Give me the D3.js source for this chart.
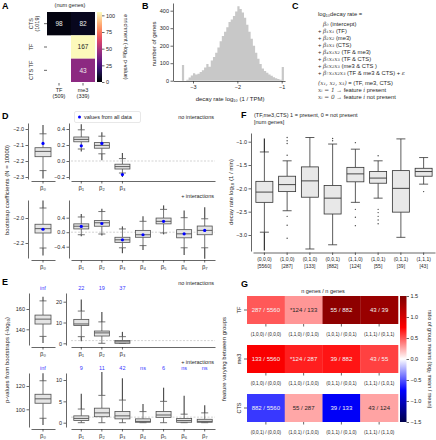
<!DOCTYPE html>
<html>
<head>
<meta charset="utf-8">
<script src="https://cdn.jsdelivr.net/npm/d3@7"></script>
<style>
  body { margin: 0; background: #fff; }
  svg { font-family: "Liberation Sans", Arial, sans-serif; }
</style>
</head>
<body>
<svg id="fig"></svg>
<script>
// ---------------- data ----------------
// A: overlap between gene sets
const aRowNames = ["CTS", "TF", "CTS TF"];
const aRowSizes = ["(1019)", "", ""];
const aColNames = ["TF", "me3"];
const aColSizes = ["(509)", "(339)"];
const aCounts = [[98, 82], [null, 167], [null, 43]];
const aEnrichment = [[3, 6], [null, 104], [null, 42]];
const aCbarTicks = [0, 25, 50, 75, 100];

// B: histogram of decay rates
const bBinStart = -3.25, bBinWidth = 0.05;
const bCounts = [90, 0, 5, 18, 30, 42, 35, 40, 50, 60, 75, 95, 80, 115, 135, 160, 190, 225, 255, 280,
  305, 335, 350, 370, 395, 425, 410, 390, 360, 320, 280, 240, 200, 160, 125, 95, 70, 55, 45, 35,
  28, 20, 14, 10, 6, 78];
const bXTicks = [-3, -2, -1];
const bYTicks = [0, 100, 200, 300, 400];

// C: model text (segments: [text, isMath])
const cLines = [
  [["log₁₀decay rate =", 0]],
  [["β₀", 1], [" (intercept)", 0]],
  [["+ ", 0], ["β₁x₁", 1], [" (TF)", 0]],
  [["+ ", 0], ["β₂x₂", 1], [" (me3)", 0]],
  [["+ ", 0], ["β₃x₃", 1], [" (CTS)", 0]],
  [["+ ", 0], ["β₄x₁x₂", 1], [" (TF & me3)", 0]],
  [["+ ", 0], ["β₅x₁x₃", 1], [" (TF & CTS)", 0]],
  [["+ ", 0], ["β₆x₂x₃", 1], [" (me3 & CTS )", 0]],
  [["+ ", 0], ["β₇x₁x₂x₃", 1], [" (TF & me3 & CTS) + ", 0], ["ε", 1]],
  [["(x₁, x₂, x₃)", 1], [" = (TF, me3, CTS)", 0]],
  [["xᵢ = 1", 1], [" → feature ", 0], ["i", 1], [" present", 0]],
  [["xᵢ = 0", 1], [" → feature ", 0], ["i", 1], [" not present", 0]]
];

// D/E: bootstrap summaries, each [whiskerLo, q1, median, q3, whiskerHi, flierLo, flierHi]
const betaNames = ["β₀", "β₁", "β₂", "β₃", "β₄", "β₅", "β₆", "β₇"];
const dNoInt = [
  [-2.26, -2.173, -2.14, -2.117, -2.03, -2.31, -1.975],
  [0.15, 0.24, 0.27, 0.30, 0.39, 0.12, 0.46],
  [0.09, 0.16, 0.195, 0.23, 0.31, 0.01, 0.36],
  [-0.15, -0.10, -0.07, -0.04, 0.03, -0.20, 0.10]
];
const dNoIntAll = [-2.09, 0.19, 0.22, -0.17];
const dInt = [
  [-2.24, -2.12, -2.085, -2.05, -1.92, -2.30, -1.86],
  [-0.07, 0.09, 0.165, 0.23, 0.42, -0.11, 0.50],
  [-0.05, 0.165, 0.26, 0.32, 0.57, -0.09, 0.65],
  [-0.43, -0.28, -0.21, -0.14, 0.09, -0.58, 0.16],
  [-0.37, -0.14, -0.07, 0.05, 0.30, -0.49, 0.44],
  [-0.02, 0.23, 0.30, 0.39, 0.63, -0.06, 0.74],
  [-0.43, -0.155, -0.045, 0.07, 0.40, -0.63, 0.60],
  [-0.43, -0.07, 0.05, 0.17, 0.37, -0.73, 0.69]
];
const dIntAll = [-2.09, 0.16, 0.24, -0.21, -0.07, 0.30, -0.045, 0.05];

const eNoInt = [
  [133, 145.2, 150, 154, 168, 126.5, 172],
  [3.2, 8.6, 9.3, 11.5, 15.5, 1.0, 21],
  [0, 3.5, 5, 5.9, 10.3, 0, 15],
  [0, 0, 0.7, 1.3, 3.2, 0, 5.5]
];
const eNoIntP = ["inf", "22", "19", "37"];
const eInt = [
  [92.3, 105.2, 109, 112.9, 124.5, 86.6, 131],
  [0, 0.5, 1.0, 1.6, 3.2, 0, 6.8],
  [0, 1.4, 2.3, 3.4, 6.4, 0, 11.9],
  [0, 0.9, 1.6, 2.6, 5.3, 0, 10.4],
  [0, 0.1, 0.3, 0.9, 2.6, 0, 4.4],
  [0, 1.25, 1.8, 2.6, 5.0, 0, 8.2],
  [0, 0.1, 0.5, 1.0, 2.0, 0, 6.3],
  [0, 0.1, 0.3, 0.8, 2.3, 0, 4.1]
];
const eIntP = ["inf", "9", "11", "42", "ns", "6", "ns", "ns"];
const eSignif = 1.3;

// F: decay rate per feature combination, [whiskerLo, q1, median, q3, whiskerHi]
const fGroups = ["(0,0,0)", "(1,0,0)", "(0,1,0)", "(0,0,1)", "(1,1,0)", "(1,0,1)", "(0,1,1)", "(1,1,1)"];
const fCounts = [5560, 287, 133, 882, 124, 55, 39, 43];
const fBoxes = [
  [-2.94, -2.30, -2.08, -1.85, -1.22],
  [-2.48, -2.07, -1.92, -1.74, -1.41],
  [-3.30, -2.19, -1.84, -1.54, -0.91],
  [-3.21, -2.55, -2.21, -1.94, -1.05],
  [-2.30, -1.86, -1.69, -1.55, -1.16],
  [-2.21, -1.89, -1.78, -1.64, -1.41],
  [-3.05, -2.51, -2.00, -1.62, -0.94],
  [-1.91, -1.74, -1.64, -1.57, -1.34]
];
const fFliers = [
  [],
  [-0.91, -0.98, -1.04, -1.29, -2.60, -2.79, -3.07],
  [],
  [-0.93, -0.98],
  [-1.02, -2.45, -2.62, -2.80],
  [-1.30, -2.45, -2.52, -2.60, -2.68, -2.76],
  [],
  [-2.07]
];
const fDenseTails = [[-3.33, -0.93], null, null, null, null, null, null, null];
const fYTicks = [-3.0, -2.5, -2.0, -1.5, -1.0];

// G: ratio of group means
const gRows = ["TF", "me3", "CTS"];
const gRatio = [
  [0.49, 0.31, 1.42, 1.35],
  [0.78, 0.66, 0.69, 0.56],
  [-0.585, 0.26, -0.78, 0.27]
];
const gCellText = [
  ["287 / 5560", "*124 / 133", "55 / 882", "43 / 39"],
  ["133 / 5560", "*124 / 287", "39 / 882", "43 / 55"],
  ["882 / 5560", "55 / 287", "39 / 133", "43 / 124"]
];
const gColLabels = [
  ["(1,0,0) / (0,0,0)", "(1,1,0) / (0,1,0)", "(1,0,1) / (0,0,1)", "(1,1,1) / (0,1,1)"],
  ["(0,1,0) / (0,0,0)", "(1,1,0) / (1,0,0)", "(0,1,1) / (0,0,1)", "(1,1,1) / (1,0,1)"],
  ["(0,0,1) / (0,0,0)", "(1,0,1) / (1,0,0)", "(0,1,1) / (0,1,0)", "(1,1,1) / (1,1,0)"]
];
const gCbarTicks = [-1.5, -1.0, -0.5, 0.0, 0.5, 1.0, 1.5];

// ---------------- setup ----------------
const W = 436, H = 440;
const ink = "#262626";
const svg = d3.select("#fig").attr("width", W).attr("height", H);
svg.append("rect").attr("width", W).attr("height", H).attr("fill", "#fff");
const defs = svg.append("defs");

function letter(x, y, t) {
  svg.append("text").attr("x", x).attr("y", y).attr("font-size", 9)
    .attr("font-weight", "bold").attr("fill", "#000").text(t);
}
function label(x, y, t, fs, anchor, rot) {
  const g = svg.append("g").attr("transform", `translate(${x},${y}) rotate(${rot || 0})`);
  return g.append("text").attr("text-anchor", anchor || "start").attr("font-size", fs || 6)
    .attr("fill", ink).text(t);
}
function styleAxis(g, fs) {
  g.attr("font-family", null).attr("font-size", null);
  g.selectAll(".domain").attr("stroke", ink).attr("stroke-width", 0.7);
  g.selectAll(".tick line").attr("stroke", ink).attr("stroke-width", 0.7);
  g.selectAll(".tick text").attr("font-size", fs || 5.5).attr("fill", ink);
}
// linear scale fixed by two reference ticks, then stretched to the axis extent
function linScale(v0, p0, v1, p1, pa, pb) {
  const s = d3.scaleLinear().domain([v0, v1]).range([p0, p1]);
  return d3.scaleLinear().domain([s.invert(pa), s.invert(pb)]).range([pa, pb]);
}
const f1 = d3.format(".1f");

// ---------------- A ----------------
letter(2, 9, "A");
label(70, 7, "(num genes)", 5.5, "middle");
const aX = d3.scaleBand().domain(aColNames).range([47, 95]);
const aY = d3.scaleBand().domain(aRowNames).range([12, 82]);
const aColor = d3.scaleSequential(d3.interpolateMagma).domain([0, 105]);
aRowNames.forEach((r, i) => {
  aColNames.forEach((c, j) => {
    const v = aEnrichment[i][j];
    if (v == null) return;
    svg.append("rect").attr("x", aX(c)).attr("y", aY(r))
      .attr("width", aX.bandwidth()).attr("height", aY.bandwidth()).attr("fill", aColor(v));
    svg.append("text").attr("x", aX(c) + aX.bandwidth() / 2).attr("y", aY(r) + aY.bandwidth() / 2)
      .attr("dy", "0.35em").attr("text-anchor", "middle").attr("font-size", 6.5)
      .attr("fill", v > 60 ? ink : "#eee").text(aCounts[i][j]);
  });
  const cy = aY(r) + aY.bandwidth() / 2;
  svg.append("line").attr("x1", 44).attr("x2", 47).attr("y1", cy).attr("y2", cy)
    .attr("stroke", ink).attr("stroke-width", 0.7);
  const t = label(33, cy, r, 5.5, "middle", -90);
  if (aRowSizes[i]) t.append("tspan").attr("x", 0).attr("dy", 5.5).text(aRowSizes[i]);
});
aColNames.forEach((c, j) => {
  const cx = aX(c) + aX.bandwidth() / 2;
  svg.append("line").attr("x1", cx).attr("x2", cx).attr("y1", 83).attr("y2", 85.5)
    .attr("stroke", ink).attr("stroke-width", 0.7);
  label(cx, 91.5, c, 5.5, "middle");
  label(cx, 98, aColSizes[j], 5.5, "middle");
});
// colorbar
const aGrad = defs.append("linearGradient").attr("id", "magma")
  .attr("x1", 0).attr("y1", 1).attr("x2", 0).attr("y2", 0);
d3.range(0, 1.001, 0.05).forEach(t => aGrad.append("stop").attr("offset", t).attr("stop-color", d3.interpolateMagma(t)));
const aCbY = d3.scaleLinear().domain([0, 105]).range([82, 12]);
svg.append("rect").attr("x", 97).attr("y", 12).attr("width", 5).attr("height", 70).attr("fill", "url(#magma)");
const aCbAxis = svg.append("g").attr("transform", "translate(102,0)")
  .call(d3.axisRight(aCbY).tickValues(aCbarTicks).tickSize(2.5).tickSizeOuter(0).tickPadding(1.5));
styleAxis(aCbAxis);
aCbAxis.select(".domain").remove();
label(123.5, 47, "enrichment (-log₁₀ p-value)", 5.5, "middle", 90);

// ---------------- B ----------------
letter(142, 9, "B");
const bX = linScale(-3, 193, -1, 281.7, 173, 285);
const bY = linScale(0, 80.7, 400, 10.7, 80.7, 3);
const bPts = bCounts.map((c, i) => [bBinStart + i * bBinWidth, c]);
bPts.push([bBinStart + bCounts.length * bBinWidth, bCounts[bCounts.length - 1]]);
svg.append("path")
  .attr("d", d3.area().x(d => bX(d[0])).y0(bY(0)).y1(d => bY(d[1])).curve(d3.curveStepAfter)(bPts))
  .attr("fill", "#c8c8c8");
const bYAxis = svg.append("g").attr("transform", "translate(173,0)")
  .call(d3.axisLeft(bY).tickValues(bYTicks).tickSize(2.5).tickSizeOuter(0).tickPadding(1.5));
styleAxis(bYAxis);
const bXAxis = svg.append("g").attr("transform", "translate(0,81)")
  .call(d3.axisBottom(bX).tickValues(bXTicks).tickFormat(d3.format("d")).tickSize(2.5).tickSizeOuter(0).tickPadding(1.5));
styleAxis(bXAxis);
label(155.5, 44, "number of genes", 6, "middle", -90);
label(230, 100.5, "decay rate log₁₀ (1 / TPM)", 6, "middle");

// ---------------- C ----------------
letter(292, 9, "C");
const cBase = [16, 25.5, 32.5, 39.5, 46.5, 53.5, 60.5, 67.5, 74.5, 84.5, 91.5, 98.5];
cLines.forEach((segs, i) => {
  const t = svg.append("text").attr("x", i === 1 ? 323 : 318).attr("y", cBase[i])
    .attr("font-size", 5.8).attr("fill", ink);
  segs.forEach(([s, m]) => {
    const ts = t.append("tspan").text(s);
    if (m) ts.attr("font-family", "DejaVu Serif, serif").attr("font-style", "italic").attr("fill", "#444");
  });
});

// ---------------- box helpers ----------------
function drawBox(g, cx, y, s, bw, capW, st) {
  const [lo, q1, med, q3, hi] = s;
  const line = (x1, y1, x2, y2, w) => g.append("line").attr("x1", x1).attr("y1", y1)
    .attr("x2", x2).attr("y2", y2).attr("stroke", st.stroke).attr("stroke-width", w || 0.8);
  if (s.length > 5) {
    line(cx, y(s[5]), cx, y(lo), 1.2);
    line(cx, y(hi), cx, y(s[6]), 1.2);
  }
  line(cx, y(lo), cx, y(q1));
  line(cx, y(q3), cx, y(hi));
  line(cx - capW / 2, y(lo), cx + capW / 2, y(lo));
  line(cx - capW / 2, y(hi), cx + capW / 2, y(hi));
  g.append("rect").attr("x", cx - bw / 2).attr("y", y(q3)).attr("width", bw)
    .attr("height", Math.max(0.5, y(q1) - y(q3))).attr("fill", st.fill)
    .attr("stroke", st.stroke).attr("stroke-width", 0.8);
  line(cx - bw / 2, y(med), cx + bw / 2, y(med), 0.9);
}
const bootStyle = { stroke: "#505050", fill: "#e4e4e4" };

function bootSubplot(o) {
  const g = svg.append("g");
  if (o.ref != null) {
    g.append("line").attr("x1", o.x.range()[0]).attr("x2", o.x.range()[1])
      .attr("y1", o.y(o.ref)).attr("y2", o.y(o.ref))
      .attr("stroke", "#b5b5b5").attr("stroke-width", 0.6).attr("stroke-dasharray", "2,1.5");
  }
  o.names.forEach((n, i) => {
    const cx = o.x(n) + o.x.bandwidth() / 2;
    drawBox(g, cx, o.y, o.stats[i], o.bw || 15, 7, bootStyle);
    if (o.dots) g.append("circle").attr("cx", cx).attr("cy", o.y(o.dots[i])).attr("r", 1.6).attr("fill", "#0000ff");
    if (o.pLabels) g.append("text").attr("x", cx).attr("y", o.pY).attr("text-anchor", "middle")
      .attr("font-size", 5.5).attr("fill", "#3a3aff").text(o.pLabels[i]);
  });
  const ya = svg.append("g").attr("transform", `translate(${o.spineX},0)`)
    .call(d3.axisLeft(o.y).tickValues(o.yTicks).tickFormat(o.fmt).tickSize(2.5).tickSizeOuter(0).tickPadding(1.5));
  styleAxis(ya);
  const xa = svg.append("g").attr("transform", `translate(0,${o.spineY})`)
    .call(d3.axisBottom(o.x).tickValues(o.names).tickSize(2.5).tickSizeOuter(0).tickPadding(2.5));
  styleAxis(xa, 6);
}

// ---------------- D ----------------
letter(2, 119, "D");
const xLeft = d3.scaleBand().domain(["β₀"]).range([31, 55]);
const xRight = d3.scaleBand().domain(betaNames.slice(1)).range([71, 215]);
svg.append("rect").attr("x", 74.5).attr("y", 111.5).attr("width", 66).attr("height", 11).attr("rx", 1.5)
  .attr("fill", "#fff").attr("stroke", "#d0d0d0").attr("stroke-width", 0.5);
svg.append("circle").attr("cx", 79.5).attr("cy", 117).attr("r", 1.5).attr("fill", "#0000ff");
label(84, 119, "values from all data", 5.5);
label(214, 119, "no interactions", 5.5, "end");
label(214, 198, "+ interactions", 5.5, "end");

bootSubplot({ x: xLeft, y: linScale(-2.3, 177, -2.0, 129, 179, 123), names: ["β₀"], stats: [dNoInt[0]],
  dots: [dNoIntAll[0]], spineX: 28, spineY: 181, yTicks: [-2.3, -2.2, -2.1, -2.0], fmt: f1, bw: 16 });
bootSubplot({ x: xRight, y: linScale(-0.2, 177, 0.4, 129, 179, 123), names: betaNames.slice(1, 4),
  stats: dNoInt.slice(1), dots: dNoIntAll.slice(1), spineX: 69, spineY: 181, yTicks: [-0.2, 0, 0.2, 0.4],
  fmt: f1, ref: 0 });
bootSubplot({ x: xLeft, y: linScale(-2.2, 243, -2.0, 218, 258, 200), names: ["β₀"], stats: [dInt[0]],
  dots: [dIntAll[0]], spineX: 28, spineY: 260, yTicks: [-2.2, -2.0], fmt: f1, bw: 16 });
bootSubplot({ x: xRight, y: linScale(-0.4, 246.7, 0.4, 217.7, 258, 200), names: betaNames.slice(1),
  stats: dInt.slice(1), dots: dIntAll.slice(1), spineX: 69, spineY: 260, yTicks: [-0.4, 0, 0.4],
  fmt: f1, ref: 0 });
label(8.5, 190, "bootstrap coefficients (N = 10000)", 6, "middle", -90);

// ---------------- E ----------------
letter(2, 285, "E");
label(214, 285, "no interactions", 5.5, "end");
label(214, 364, "+ interactions", 5.5, "end");
bootSubplot({ x: xLeft, y: linScale(140, 329.3, 160, 309, 345, 293), names: ["β₀"], stats: [eNoInt[0]],
  pLabels: [eNoIntP[0]], pY: 290, spineX: 29, spineY: 347, yTicks: [140, 160], fmt: d3.format("d"), bw: 16 });
bootSubplot({ x: xRight, y: linScale(0, 343.3, 20, 301.7, 345, 293), names: betaNames.slice(1, 4),
  stats: eNoInt.slice(1), pLabels: eNoIntP.slice(1), pY: 290, spineX: 66, spineY: 347,
  yTicks: [0, 10, 20], fmt: d3.format("d"), ref: eSignif });
bootSubplot({ x: xLeft, y: linScale(100, 409.3, 120, 386, 427, 373), names: ["β₀"], stats: [eInt[0]],
  pLabels: [eIntP[0]], pY: 369.5, spineX: 29, spineY: 429, yTicks: [100, 120], fmt: d3.format("d"), bw: 16 });
bootSubplot({ x: xRight, y: linScale(0, 422.7, 10, 380, 427, 373), names: betaNames.slice(1),
  stats: eInt.slice(1), pLabels: eIntP.slice(1), pY: 369.5, spineX: 66, spineY: 429,
  yTicks: [0, 5, 10], fmt: d3.format("d"), ref: eSignif });
label(8.5, 360, "p-values from bootstraps (-log₁₀)", 6, "middle", -90);

// ---------------- F ----------------
letter(241, 118, "F");
label(254, 117, "(TF,me3,CTS) 1 = present, 0 = not present", 5.5);
label(254, 123.5, "[num genes]", 5.5);
const fX = d3.scaleBand().domain(fGroups).range([253, 435]);
const fY = linScale(-3.0, 235, -1.0, 141.7, 251, 133);
const fStyle = { stroke: "#333", fill: "#e8e8e8" };
const fG = svg.append("g");
fGroups.forEach((k, i) => {
  const cx = fX(k) + fX.bandwidth() / 2;
  const tail = fDenseTails[i];
  const s = tail ? fBoxes[i].concat(tail) : fBoxes[i];
  drawBox(fG, cx, fY, s, 17, 9, fStyle);
  fFliers[i].forEach(v => fG.append("circle").attr("cx", cx).attr("cy", fY(v)).attr("r", 0.7).attr("fill", "#444"));
});
const fYAxis = svg.append("g").attr("transform", "translate(251,0)")
  .call(d3.axisLeft(fY).tickValues(fYTicks).tickFormat(f1).tickSize(2.5).tickSizeOuter(0).tickPadding(1.5));
styleAxis(fYAxis);
const fXAxis = svg.append("g").attr("transform", "translate(0,252.5)")
  .call(d3.axisBottom(fX).tickSize(2.5).tickSizeOuter(0).tickFormat(""));
styleAxis(fXAxis);
fGroups.forEach((k, i) => {
  const cx = fX(k) + fX.bandwidth() / 2;
  label(cx, 261, k, 5, "middle");
  label(cx, 267.5, `[${fCounts[i]}]`, 5, "middle");
});
label(233, 192, "decay rate log₁₀ (1 / min)", 6, "middle", -90);

// ---------------- G ----------------
letter(241, 287, "G");
label(323, 292.5, "n genes / n genes", 5.5, "middle");
const gX = d3.scaleBand().domain([0, 1, 2, 3]).range([247, 398]);
const gRowTop = [296, 345, 394];
const gRowH = 28;
const gColor = d3.scaleLinear().domain([-1.5, -0.75, 0, 0.75, 1.5])
  .range(["#00004c", "#0000ff", "#ffffff", "#ff0000", "#800000"]).clamp(true);
gRows.forEach((r, i) => {
  const top = gRowTop[i];
  gRatio[i].forEach((v, j) => {
    svg.append("rect").attr("x", gX(j)).attr("y", top).attr("width", gX.bandwidth() + 0.3)
      .attr("height", gRowH).attr("fill", gColor(v));
    svg.append("text").attr("x", gX(j) + gX.bandwidth() / 2).attr("y", top + gRowH / 2).attr("dy", "0.35em")
      .attr("text-anchor", "middle").attr("font-size", 6)
      .attr("fill", Math.abs(v) > 0.4 ? "#f4f4f4" : ink).text(gCellText[i][j]);
    const cx = gX(j) + gX.bandwidth() / 2;
    svg.append("line").attr("x1", cx).attr("x2", cx).attr("y1", top + gRowH).attr("y2", top + gRowH + 2.5)
      .attr("stroke", ink).attr("stroke-width", 0.7);
    label(cx, top + gRowH + 12, gColLabels[i][j], 4.6, "middle");
  });
  const cy = top + gRowH / 2;
  svg.append("line").attr("x1", 244).attr("x2", 247).attr("y1", cy).attr("y2", cy)
    .attr("stroke", ink).attr("stroke-width", 0.7);
  label(241, cy, r, 5.5, "middle", -90);
});
const gGrad = defs.append("linearGradient").attr("id", "seismic")
  .attr("x1", 0).attr("y1", 1).attr("x2", 0).attr("y2", 0);
d3.range(0, 1.001, 0.05).forEach(t => gGrad.append("stop").attr("offset", t).attr("stop-color", gColor(-1.5 + 3 * t)));
const gCbY = d3.scaleLinear().domain([-1.5, 1.5]).range([422, 296]);
svg.append("rect").attr("x", 400).attr("y", 296).attr("width", 6.5).attr("height", 126).attr("fill", "url(#seismic)");
const gCbAxis = svg.append("g").attr("transform", "translate(406.5,0)")
  .call(d3.axisRight(gCbY).tickValues(gCbarTicks).tickFormat(f1).tickSize(2.5).tickSizeOuter(0).tickPadding(1.5));
styleAxis(gCbAxis);
gCbAxis.select(".domain").remove();
label(428, 359, "ratio of group means (log₂ mean / mean)", 5.5, "middle", 90);
label(225.5, 359, "feature varying between groups", 6, "middle", -90);
</script>
</body>
</html>
